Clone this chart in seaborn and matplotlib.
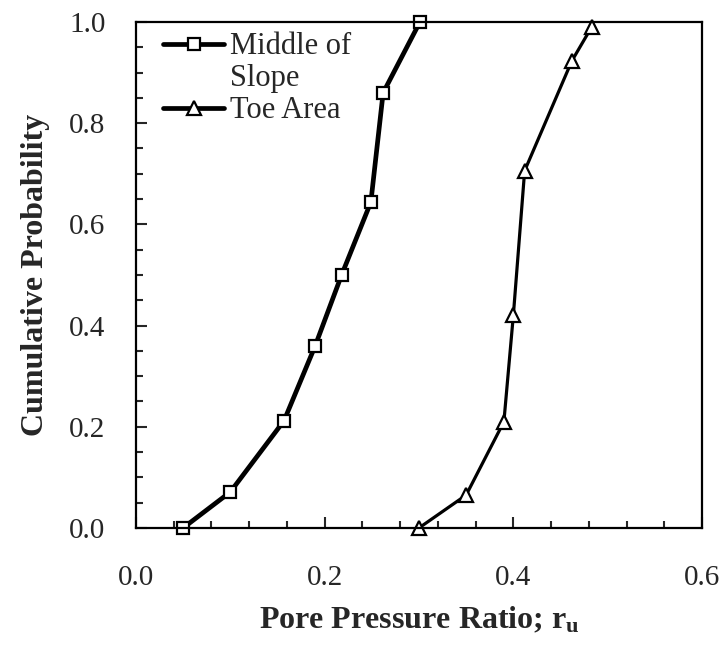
import numpy as np
import pandas as pd
import matplotlib
matplotlib.use("Agg")
from matplotlib import pyplot as plt
from matplotlib.lines import Line2D
from matplotlib.ticker import MultipleLocator, FormatStrFormatter
import seaborn as sns

# data
middle_ru = [0.05, 0.10, 0.157, 0.19, 0.218, 0.249, 0.262, 0.301]
middle_p = [0.0, 0.071, 0.212, 0.36, 0.50, 0.644, 0.86, 1.0]
toe_ru = [0.30, 0.35, 0.39, 0.40, 0.412, 0.462, 0.483]
toe_p = [0.0, 0.065, 0.21, 0.42, 0.706, 0.923, 0.99]
series_names = ["Middle of", "Toe Area"]

x_ticks = [0.0, 0.2, 0.4, 0.6]
y_ticks = [0.0, 0.2, 0.4, 0.6, 0.8, 1.0]

sns.set_style("ticks")
plt.rcParams['font.family'] = ['Liberation Serif', 'DejaVu Serif']
plt.rcParams['mathtext.fontset'] = 'custom'
plt.rcParams['mathtext.rm'] = 'Liberation Serif'
plt.rcParams['mathtext.bf'] = 'Liberation Serif:bold'

df_mid = pd.DataFrame({"ru": middle_ru, "p": middle_p})
df_toe = pd.DataFrame({"ru": toe_ru, "p": toe_p})

fig, ax = plt.subplots(figsize=(7.23, 6.47), dpi=100)
fig.subplots_adjust(left=0.188, right=0.971, bottom=0.184, top=0.966)

sns.lineplot(data=df_mid, x="ru", y="p", ax=ax, sort=False, color="black",
             linewidth=3.4, marker="s", markersize=8.5, markerfacecolor="white",
             markeredgecolor="black", markeredgewidth=1.6, clip_on=False)
sns.lineplot(data=df_toe, x="ru", y="p", ax=ax, sort=False, color="black",
             linewidth=2.3, marker="^", markersize=9.5, markerfacecolor="white",
             markeredgecolor="black", markeredgewidth=1.6, clip_on=False)

ax.set_xlim(0, 0.6)
ax.set_ylim(0, 1.0)
ax.set_xticks(x_ticks)
ax.set_yticks(y_ticks)
ax.xaxis.set_minor_locator(MultipleLocator(0.04))
ax.yaxis.set_minor_locator(MultipleLocator(0.05))
ax.xaxis.set_major_formatter(FormatStrFormatter('%.1f'))
ax.yaxis.set_major_formatter(FormatStrFormatter('%.1f'))
ax.tick_params(which='major', direction='in', length=8, width=1.5, labelsize=21, pad=27)
ax.tick_params(axis='y', which='major', pad=22)
ax.tick_params(which='minor', direction='in', length=5, width=1.5)
for s in ax.spines.values():
    s.set_linewidth(1.6)
    s.set_color("black")

ax.set_xlabel(r'Pore Pressure Ratio; $\mathbf{r_u}$', fontsize=23, fontweight='bold', labelpad=10)
ax.set_ylabel('Cumulative Probability', fontsize=23, fontweight='bold', labelpad=14)

h_mid = Line2D([], [], color="black", linewidth=3.4, marker="s", markersize=8.5,
               markerfacecolor="white", markeredgewidth=1.6)
h_blank = Line2D([], [], linestyle="none")
h_toe = Line2D([], [], color="black", linewidth=3.4, marker="^", markersize=9.5,
               markerfacecolor="white", markeredgewidth=1.6)
ax.legend([h_mid, h_blank, h_toe], [series_names[0], "Slope", series_names[1]],
          loc="upper left", bbox_to_anchor=(0.01, 1.022), frameon=False,
          fontsize=22, handlelength=2.0, handletextpad=0.2, labelspacing=0.1,
          borderaxespad=0.3)

fig.savefig("out.png", dpi=100)
